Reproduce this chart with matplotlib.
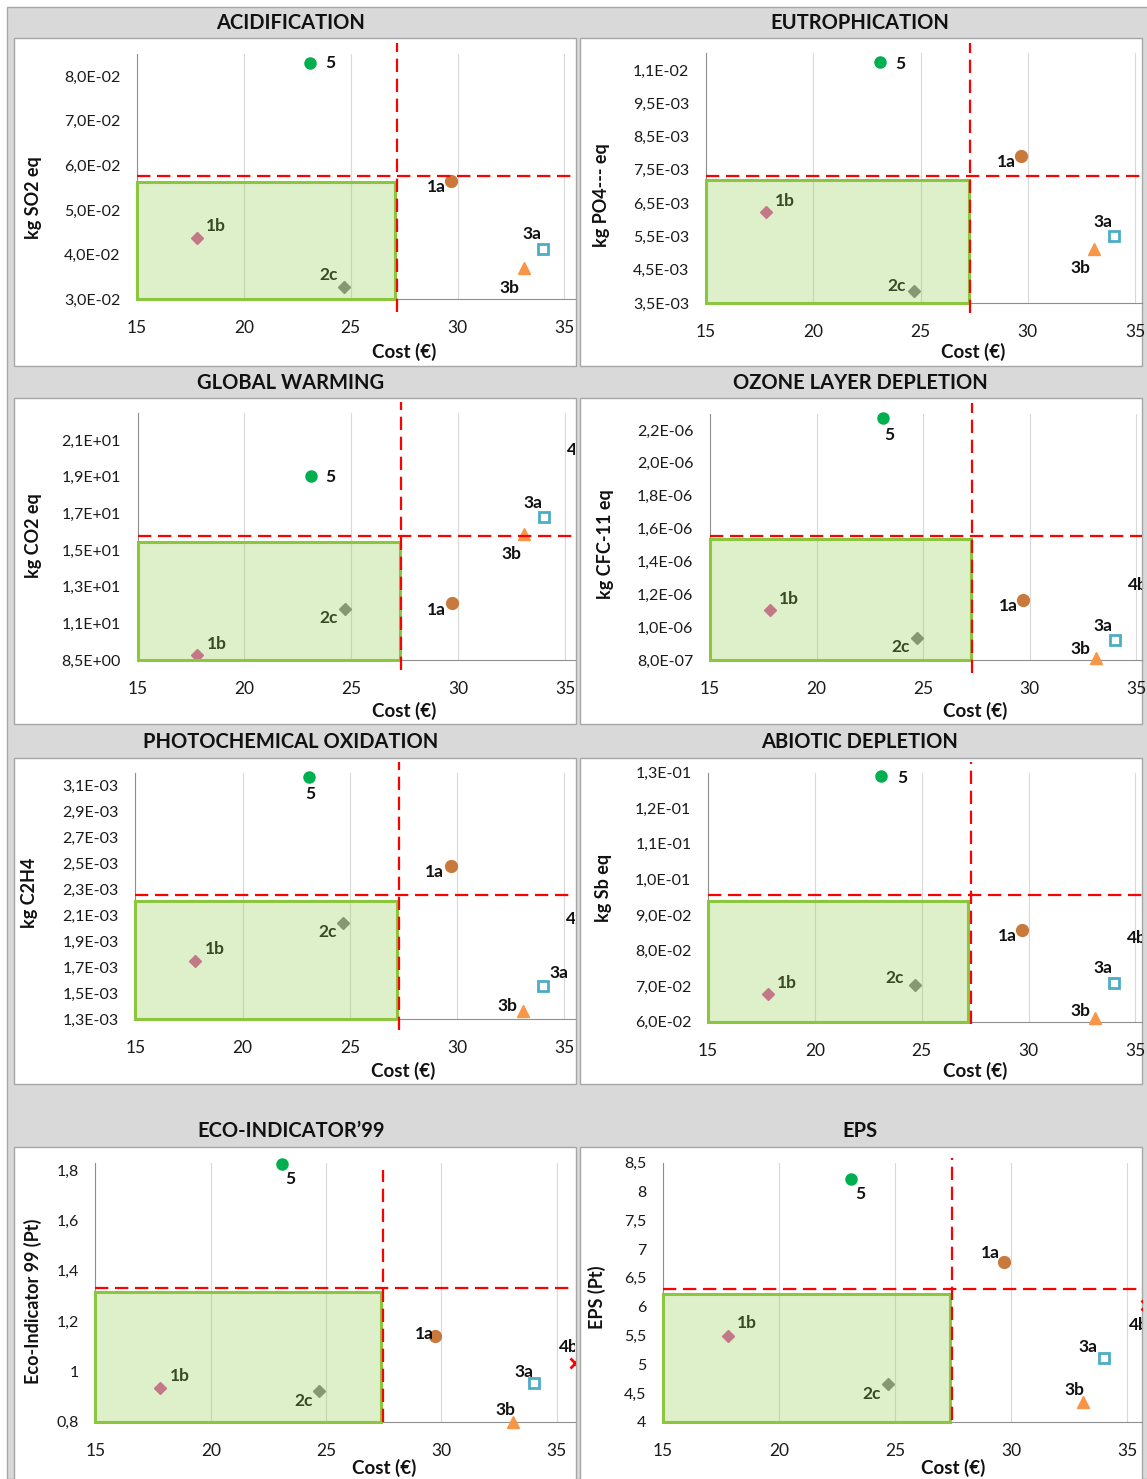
import numpy as np
import matplotlib
matplotlib.use("Agg")
import matplotlib.pyplot as plt
from matplotlib.patches import Rectangle

plt.rcParams["font.family"] = ["Lato", "DejaVu Sans"]

W, H = 1147, 1479

# ---- data -------------------------------------------------------------
names = ["5", "1a", "1b", "2c", "3a", "3b", "4b"]
cost = [23.1, 29.7, 17.8, 24.7, 34.0, 33.1, 35.8]

acid = [0.0828, 0.0565, 0.0438, 0.0327, 0.0413, 0.0371, np.nan]
eutro = [0.01074, 0.00791, 0.00623, 0.00386, 0.00551, 0.00512, np.nan]
gwp = [18.55, 11.59, 8.77, 11.27, 16.32, 15.36, 19.96]
ozone = [2.275e-6, 1.165e-6, 1.104e-6, 0.936e-6, 0.922e-6, 0.810e-6, 1.256e-6]
photo = [3.164e-3, 2.481e-3, 1.751e-3, 2.042e-3, 1.557e-3, 1.366e-3, 2.07e-3]
abiotic = [0.1292, 0.0858, 0.0679, 0.0703, 0.0708, 0.0610, 0.0834]
eco99 = [1.823, 1.140, 0.933, 0.922, 0.953, 0.800, 1.033]
eps = [8.21, 6.78, 5.49, 4.65, 5.10, 4.34, 6.03]

titles = ["ACIDIFICATION", "EUTROPHICATION", "GLOBAL WARMING", "OZONE LAYER DEPLETION",
          "PHOTOCHEMICAL OXIDATION", "ABIOTIC DEPLETION", "ECO-INDICATOR’99", "EPS"]
ylabels = ["kg SO2 eq", "kg PO4--- eq", "kg CO2 eq", "kg CFC-11 eq",
           "kg C2H4", "kg Sb eq", "Eco-Indicator 99 (Pt)", "EPS (Pt)"]
series = [acid, eutro, gwp, ozone, photo, abiotic, eco99, eps]

# cost threshold, impact threshold, and the "better" box corner
cost_limit = [27.17, 27.30, 27.31, 27.29, 27.29, 27.29, 27.46, 27.46]
impact_limit = [0.0577, 0.00731, 15.28, 1.557e-6, 2.258e-3, 0.0956, 1.330, 6.31]
box_cost = [27.08, 27.26, 27.29, 27.25, 27.20, 27.17, 27.38, 27.37]
box_impact = [0.0563, 0.00719, 14.95, 1.536e-6, 2.214e-3, 0.0939, 1.314, 6.22]

ylims = [(0.03, 0.085), (0.0035, 0.011), (8.5, 22), (0.8e-6, 2.3e-6),
         (1.3e-3, 3.2e-3), (0.06, 0.13), (0.8, 1.83), (4, 8.5)]
yticks = [
    [0.03, 0.04, 0.05, 0.06, 0.07, 0.08],
    [0.0035, 0.0045, 0.0055, 0.0065, 0.0075, 0.0085, 0.0095, 0.0105],
    [8.5, 10.5, 12.5, 14.5, 16.5, 18.5, 20.5],
    [0.8e-6, 1.0e-6, 1.2e-6, 1.4e-6, 1.6e-6, 1.8e-6, 2.0e-6, 2.2e-6],
    [1.3e-3, 1.5e-3, 1.7e-3, 1.9e-3, 2.1e-3, 2.3e-3, 2.5e-3, 2.7e-3, 2.9e-3, 3.1e-3],
    [0.06, 0.07, 0.08, 0.09, 0.10, 0.11, 0.12, 0.13],
    [0.8, 1.0, 1.2, 1.4, 1.6, 1.8],
    [4, 4.5, 5, 5.5, 6, 6.5, 7, 7.5, 8, 8.5],
]
ytick_labels = [
    ["3,0E-02", "4,0E-02", "5,0E-02", "6,0E-02", "7,0E-02", "8,0E-02"],
    ["3,5E-03", "4,5E-03", "5,5E-03", "6,5E-03", "7,5E-03", "8,5E-03", "9,5E-03", "1,1E-02"],
    ["8,5E+00", "1,1E+01", "1,3E+01", "1,5E+01", "1,7E+01", "1,9E+01", "2,1E+01"],
    ["8,0E-07", "1,0E-06", "1,2E-06", "1,4E-06", "1,6E-06", "1,8E-06", "2,0E-06", "2,2E-06"],
    ["1,3E-03", "1,5E-03", "1,7E-03", "1,9E-03", "2,1E-03", "2,3E-03", "2,5E-03", "2,7E-03",
     "2,9E-03", "3,1E-03"],
    ["6,0E-02", "7,0E-02", "8,0E-02", "9,0E-02", "1,0E-01", "1,1E-01", "1,2E-01", "1,3E-01"],
    ["0,8", "1", "1,2", "1,4", "1,6", "1,8"],
    ["4", "4,5", "5", "5,5", "6", "6,5", "7", "7,5", "8", "8,5"],
]
xticks = [15, 20, 25, 30, 35]

# ---- layout (pixels) ----------------------------------------------------
# axes: left px at cost 15, top px, right px, bottom px, px per cost unit
axes_px = [(137, 53.6, 575, 299.3, 21.37), (706, 53.3, 1142, 303, 21.45),
           (137.6, 412.5, 575, 660, 21.37), (710, 413.5, 1142, 660, 21.3),
           (135.4, 772.7, 575, 1019.3, 21.44), (708.1, 772.7, 1142, 1021.7, 21.36),
           (95.4, 1162.5, 575, 1421.7, 23.07), (663, 1162.7, 1142, 1421.7, 23.2)]
panel_px = [(13.7, 38.3, 576, 365.7), (580, 38.3, 1142, 365.7),
            (13.7, 397.7, 576, 724.3), (580, 397.7, 1142, 724.3),
            (13.7, 757.7, 576, 1084.3), (580, 757.7, 1142, 1084.3),
            (13.7, 1146.7, 576, 1490), (580, 1146.7, 1142, 1490)]
title_px = [(291, 22.7), (860, 22.7), (291, 382.7), (860, 382.7),
            (291, 741.7), (860, 741.7), (291, 1130.7), (860, 1130.7)]
ylabel_px = [(33, 198), (601, 195), (33, 536), (605, 544),
             (29, 893), (603, 888), (33, 1301), (597, 1297)]
xlabel_px = [(404, 351.7), (973, 351.7), (404, 710.7), (975, 710.7),
             (403, 1070.7), (975, 1070.7), (384, 1468.3), (953, 1468.3)]
vline_span = [(-0.052, 1.043), (-0.04, 1.041), (-0.04, 1.044), (-0.053, 1.043),
              (-0.043, 1.044), (-0.009, 1.044), (0.0, 0.97), (0.007, 1.018)]

# label offsets (px, +y down) for 5, 1a, 1b, 2c, 3a, 3b, 4b
label_off = [
    [(20, 0), (-15, 6), (19, -12), (-16, -12), (-11, -15), (-14, 20), None],
    [(21, 2), (-15, 6), (19, -11), (-18, -5), (-11, -14), (-14, 19), None],
    [(20, 1), (-15, 7), (19, -11), (-16, 9), (-11, -14), (-13, 20), (-15, 0)],
    [(7, 17), (-15, 6), (19, -11), (-16, 9), (-12, -14), (-15, -9), (-25, 0)],
    [(1, 17), (-16, 6), (19, -12), (-16, 9), (16, -13), (-16, -5), (-15, 0)],
    [(21, 2), (-15, 6), (19, -11), (-21, -7), (-11, -15), (-14, -7), (-25, 0)],
    [(8, 15), (-10, -2), (20, -12), (-16, 10), (-10, -11), (-8, -12), (-16, -16)],
    [(9, 15), (-14, -9), (19, -13), (-16, 10), (-16, -11), (-9, -12), (-17, 20)],
]

styles = {
    "5": dict(marker="o", color="#00b050", ms=8),
    "1a": dict(marker="o", color="#c8793b", ms=8.5),
    "1b": dict(marker="D", color="#d9529f", ms=6),
    "2c": dict(marker="D", color="#808080", ms=6.5),
    "3a": dict(marker="s", color="#4bacc6", mfc="white", mew=2, ms=7.5),
    "3b": dict(marker="^", color="#f79646", ms=9),
    "4b": dict(marker="x", color="#ff0000", mew=2, ms=7),
}

fig = plt.figure(figsize=(W / 100, H / 100), dpi=100, facecolor="white")


def fx(x):
    return x / W


def fy(y):
    return 1 - y / H


# grey backdrop with outer border
fig.add_artist(Rectangle((fx(7), 0), 1, fy(7), transform=fig.transFigure,
                         facecolor="#d9d9d9", edgecolor="#a6a6a6", lw=1, zorder=-10))

for i in range(8):
    px0, py0, px1, py1 = panel_px[i]
    fig.add_artist(Rectangle((fx(px0), fy(py1)), fx(px1 - px0), (py1 - py0) / H,
                             transform=fig.transFigure, facecolor="white",
                             edgecolor="#a6a6a6", lw=1, zorder=-5))
    fig.text(fx(title_px[i][0]), fy(title_px[i][1]), titles[i], ha="center", va="center",
             fontsize=14.5, fontweight="bold", color="#111111")
    fig.text(fx(ylabel_px[i][0]), fy(ylabel_px[i][1]), ylabels[i], ha="center", va="center",
             rotation=90, fontsize=13, fontweight="bold", color="#111111")
    fig.text(fx(xlabel_px[i][0]), fy(xlabel_px[i][1]), "Cost (€)", ha="center", va="center",
             fontsize=13.5, fontweight="bold", color="#111111")

    l, t, r, b, ppu = axes_px[i]
    ax = fig.add_axes([fx(l), fy(b), fx(r - l), (b - t) / H])
    ax.set_facecolor("none")
    ax.set_xlim(15, 15 + (r - l) / ppu)
    ax.set_ylim(*ylims[i])
    ax.set_xticks(xticks)
    ax.set_yticks(yticks[i])
    ax.set_yticklabels(ytick_labels[i])
    ax.tick_params(length=0, labelsize=11.5, colors="#1a1a1a")
    ax.tick_params(axis="x", pad=15, labelsize=12.5)
    ax.tick_params(axis="y", pad=12)
    for s in ["top", "right"]:
        ax.spines[s].set_visible(False)
    for s in ["left", "bottom"]:
        ax.spines[s].set_color("#8f8f8f")
        ax.spines[s].set_linewidth(0.8)
    ax.grid(axis="x", color="#d9d9d9", lw=0.8, zorder=0)
    ax.set_axisbelow(True)

    vals = series[i]
    for j, nm in enumerate(names):
        if np.isnan(vals[j]):
            continue
        # only the off-scale point 4b is cut by the plot edge
        edge_pt = nm == "4b"
        ax.plot([cost[j]], [vals[j]], ls="none", zorder=3, clip_on=edge_pt, **styles[nm])
        off = label_off[i][j]
        if off is None:
            continue
        ann = ax.annotate(nm, (cost[j], vals[j]), xytext=(off[0], -off[1]),
                          textcoords="offset pixels", ha="left" if edge_pt else "center",
                          va="center", fontsize=12.5, fontweight="bold", color="#111111",
                          annotation_clip=False, zorder=4)
        if edge_pt:
            ann.set_clip_on(True)
            ann.set_clip_box(ax.bbox)

    ymin = ylims[i][0]
    ax.add_patch(Rectangle((15, ymin), box_cost[i] - 15, box_impact[i] - ymin,
                           facecolor=(0.573, 0.816, 0.314, 0.3), edgecolor="#8cc63e",
                           lw=2.2, zorder=5, clip_on=False))
    ax.plot([cost_limit[i]] * 2, vline_span[i], transform=ax.get_xaxis_transform(),
            color="#ff0000", lw=1.6, dashes=(6, 3), zorder=6, clip_on=False)
    ax.plot([15, 40], [impact_limit[i]] * 2, color="#ff0000", lw=1.6, dashes=(6, 3),
            zorder=6)

fig.savefig("out.png", dpi=100, facecolor="white")
